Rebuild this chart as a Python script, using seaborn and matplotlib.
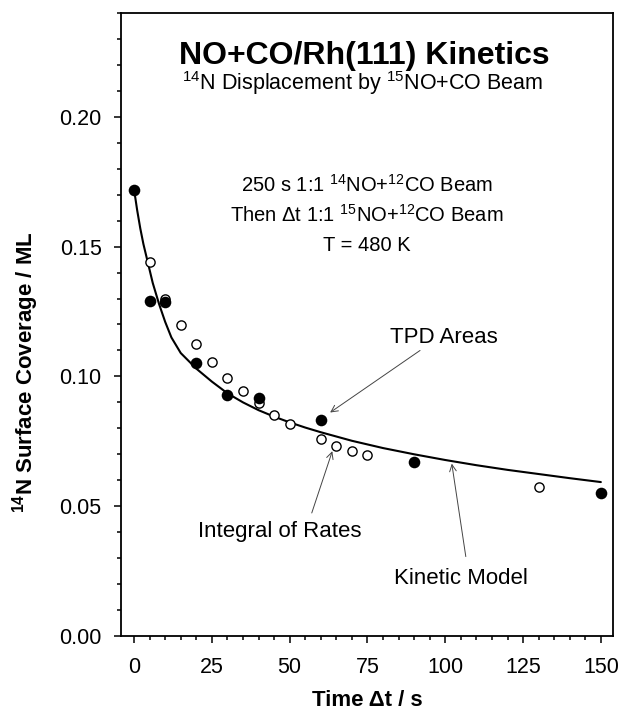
import numpy as np
import pandas as pd
import seaborn as sns
import matplotlib.pyplot as plt
from matplotlib.ticker import MultipleLocator, FormatStrFormatter

# ---- data ----
# TPD Areas (filled circles)
tpd_t = [0, 5, 10, 20, 30, 40, 60, 90, 150]
tpd_cov = [0.172, 0.129, 0.1288, 0.105, 0.093, 0.0915, 0.0834, 0.0671, 0.0551]

# Integral of Rates (open circles)
rate_t = [5, 10, 15, 20, 25, 30, 35, 40, 45, 50, 60, 65, 70, 75, 130]
rate_cov = [0.144, 0.1298, 0.120, 0.1124, 0.1057, 0.0995, 0.0945, 0.0896,
            0.0853, 0.0817, 0.0757, 0.0733, 0.0713, 0.0699, 0.0574]

# Kinetic Model (solid line)
model_t = [0, 1, 2, 3, 4, 5, 6, 7, 8, 10, 12, 15, 20, 25, 30, 35, 40, 45,
           50, 55, 60, 70, 80, 90, 100, 110, 120, 130, 140, 150]
model_cov = [0.172, 0.164, 0.157, 0.151, 0.146, 0.141, 0.136, 0.132, 0.128,
             0.121, 0.115, 0.109, 0.103, 0.098, 0.0935, 0.0900, 0.0870,
             0.0845, 0.0823, 0.0803, 0.0785, 0.0752, 0.0724, 0.0700, 0.0678,
             0.0658, 0.0640, 0.0624, 0.0608, 0.0593]

# ---- style ----
sns.set_style("ticks")
plt.rcParams['font.family'] = ['Liberation Sans', 'DejaVu Sans']
plt.rcParams['mathtext.fontset'] = 'custom'
plt.rcParams['mathtext.rm'] = 'Liberation Sans'
plt.rcParams['mathtext.it'] = 'Liberation Sans:italic'
plt.rcParams['mathtext.bf'] = 'Liberation Sans:bold'
plt.rcParams['text.color'] = 'black'
plt.rcParams['axes.labelcolor'] = 'black'
plt.rcParams['xtick.color'] = 'black'
plt.rcParams['ytick.color'] = 'black'

fig = plt.figure(figsize=(6.2, 7.12), dpi=100)
ax = fig.add_axes([121 / 620, 1 - 636 / 712, 492 / 620, 623 / 712])

sns.lineplot(x=model_t, y=model_cov, ax=ax, color='black', lw=1.5,
             sort=False, estimator=None, zorder=2)
sns.scatterplot(x=rate_t, y=rate_cov, ax=ax, marker='o', s=44,
                facecolor='white', edgecolor='black', linewidth=1.0, zorder=3)
sns.scatterplot(x=tpd_t, y=tpd_cov, ax=ax, marker='o', s=70,
                color='black', linewidth=0, zorder=4)

ax.set_xlim(-4.2, 153.9)
ax.set_ylim(0, 0.24)
ax.xaxis.set_major_locator(MultipleLocator(25))
ax.xaxis.set_minor_locator(MultipleLocator(5))
ax.yaxis.set_major_locator(MultipleLocator(0.05))
ax.yaxis.set_minor_locator(MultipleLocator(0.01))
ax.yaxis.set_major_formatter(FormatStrFormatter('%.2f'))

for s in ax.spines.values():
    s.set_linewidth(1.3)
    s.set_color('black')
ax.tick_params(which='major', direction='out', length=5, width=1.1,
               labelsize=15.5, colors='black')
ax.tick_params(which='minor', direction='out', length=3, width=1.1,
               colors='black')
ax.tick_params(axis='x', which='major', pad=10)
ax.tick_params(axis='y', which='major', pad=9)

ax.set_xlabel('Time \u0394t / s', fontsize=16, fontweight='bold')
ax.set_ylabel(r'$^{\mathbf{14}}$N Surface Coverage / ML', fontsize=16,
              fontweight='bold')
ax.xaxis.set_label_coords(0.5, -0.0867)
ax.yaxis.set_label_coords(-0.163, 0.424)

# ---- titles and notes ----
ax.text(0.494, 0.9185, 'NO+CO/Rh(111) Kinetics', transform=ax.transAxes,
        ha='center', va='baseline', fontsize=23, fontweight='bold')
ax.text(0.4915, 0.8764, r'$^{14}$N Displacement by $^{15}$NO+CO Beam',
        transform=ax.transAxes, ha='center', va='baseline', fontsize=15.5)
ax.text(0.5, 0.7132, r'250 s 1:1 $^{14}$NO+$^{12}$CO Beam',
        transform=ax.transAxes, ha='center', va='baseline', fontsize=14.5)
ax.text(0.5, 0.665, 'Then \u0394t 1:1 $^{15}$NO+$^{12}$CO Beam',
        transform=ax.transAxes, ha='center', va='baseline', fontsize=14.5)
ax.text(0.5, 0.6185, 'T = 480 K', transform=ax.transAxes,
        ha='center', va='baseline', fontsize=14.5)

arrow = dict(arrowstyle='->', lw=0.7, color='#444444', shrinkA=0, shrinkB=0,
             mutation_scale=12)
ax.text(99.4, 0.1130, 'TPD Areas', ha='center', va='baseline', fontsize=16)
ax.annotate('', xy=(63.0, 0.0861), xytext=(91.9, 0.1100), arrowprops=arrow)
ax.text(46.9, 0.0383, 'Integral of Rates', ha='center', va='baseline',
        fontsize=16)
ax.annotate('', xy=(63.7, 0.0712), xytext=(57.1, 0.0474), arrowprops=arrow)
ax.text(105.1, 0.0201, 'Kinetic Model', ha='center', va='baseline',
        fontsize=16)
ax.annotate('', xy=(102.1, 0.0664), xytext=(106.6, 0.0306), arrowprops=arrow)

fig.savefig('out.png', dpi=100)
